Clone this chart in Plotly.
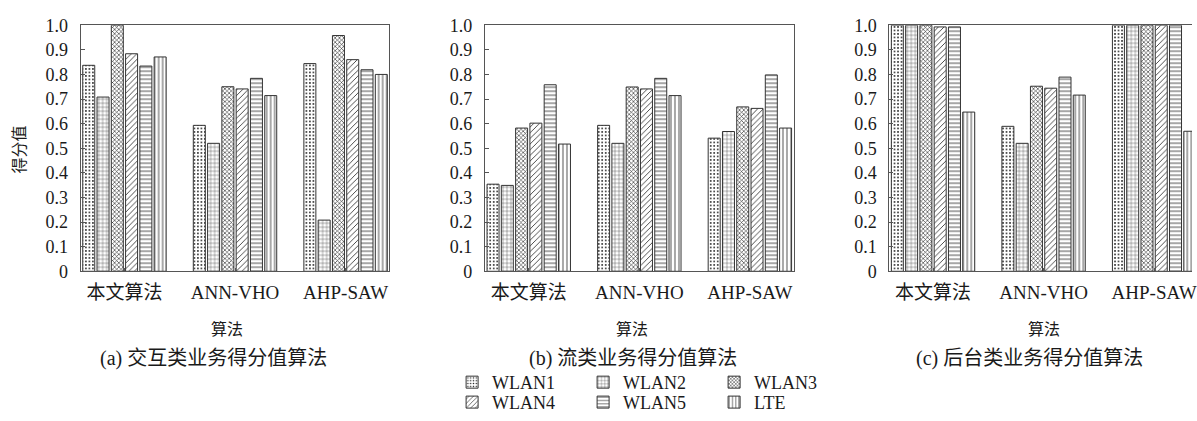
import plotly.graph_objects as go

categories = ["本文算法", "ANN-VHO", "AHP-SAW"]
series = ["WLAN1", "WLAN2", "WLAN3", "WLAN4", "WLAN5", "LTE"]

# values[panel][series] -> list over categories
panel_a = {
    "WLAN1": [0.837, 0.593, 0.844],
    "WLAN2": [0.708, 0.520, 0.208],
    "WLAN3": [1.000, 0.750, 0.958],
    "WLAN4": [0.884, 0.741, 0.860],
    "WLAN5": [0.834, 0.784, 0.819],
    "LTE":   [0.871, 0.714, 0.800],
}
panel_b = {
    "WLAN1": [0.354, 0.593, 0.541],
    "WLAN2": [0.349, 0.520, 0.568],
    "WLAN3": [0.582, 0.749, 0.668],
    "WLAN4": [0.602, 0.741, 0.662],
    "WLAN5": [0.758, 0.784, 0.798],
    "LTE":   [0.517, 0.714, 0.582],
}
panel_c = {
    "WLAN1": [1.000, 0.589, 1.000],
    "WLAN2": [1.000, 0.520, 1.000],
    "WLAN3": [1.000, 0.752, 1.000],
    "WLAN4": [0.993, 0.744, 1.000],
    "WLAN5": [0.993, 0.789, 1.000],
    "LTE":   [0.647, 0.716, 0.569],
}
panels = [panel_a, panel_b, panel_c]
captions = ["(a) 交互类业务得分值算法", "(b) 流类业务得分值算法", "(c) 后台类业务得分值算法"]
y_ticks = [0, 0.1, 0.2, 0.3, 0.4, 0.5, 0.6, 0.7, 0.8, 0.9, 1.0]
y_ticktext = ["0", "0.1", "0.2", "0.3", "0.4", "0.5", "0.6", "0.7", "0.8", "0.9", "1.0"]
x_title = "算法"
y_title = "得分值"

W, H = 1197, 421
FONT = "'Liberation Serif', 'DejaVu Serif', 'Noto Sans CJK SC', serif"
INK = "#1a1a1a"

patterns = {
    "WLAN1": dict(shape=".", size=3.5, solidity=0.22),
    "WLAN2": dict(shape="+", size=4, solidity=0.18),
    "WLAN3": dict(shape="x", size=3, solidity=0.35),
    "WLAN4": dict(shape="/", size=4, solidity=0.2),
    "WLAN5": dict(shape="-", size=4, solidity=0.2),
    "LTE":   dict(shape="|", size=4, solidity=0.2),
}

# pixel geometry of the plot areas
px_left = [81, 487, 893]
px_right = [391, 797, 1197]
px_top, px_bottom = 16, 275
unit = 111.0
ranges = [[-0.396, 2.396], [-0.396, 2.396], [-0.396, -0.396 + (1197 - 893) / unit]]

fig = go.Figure()
for p, data in enumerate(panels):
    xa = "x" if p == 0 else f"x{p+1}"
    ya = "y" if p == 0 else f"y{p+1}"
    for i, s in enumerate(series):
        pat = dict(patterns[s])
        pat.update(fgcolor="#222222", bgcolor="white", fillmode="replace")
        fig.add_trace(go.Bar(
            x=categories, y=data[s], name=s,
            xaxis=xa, yaxis=ya,
            marker=dict(color="white", pattern=pat,
                        line=dict(color="#333333", width=1)),
            showlegend=(p == 0),
            legend="legend" if i < 3 else "legend2",
            legendgroup=s,
        ))

layout = dict(
    width=W, height=H,
    margin=dict(l=0, r=0, t=0, b=0),
    paper_bgcolor="white", plot_bgcolor="white",
    barmode="group", bargap=0.225, bargroupgap=0.16,
    font=dict(family=FONT, color=INK, size=18),
    showlegend=True,
)
for p in range(3):
    xk = "xaxis" if p == 0 else f"xaxis{p+1}"
    yk = "yaxis" if p == 0 else f"yaxis{p+1}"
    layout[xk] = dict(
        domain=[px_left[p] / W, min(px_right[p] / W, 1.0)],
        anchor="y" if p == 0 else f"y{p+1}",
        type="category", range=ranges[p],
        showline=True, linecolor="#555555", linewidth=1, mirror=True,
        ticks="inside", ticklen=3, tickcolor="#555555",
        tickfont=dict(size=19, family=FONT, color=INK),
        ticklabelstandoff=4,
        showgrid=False, zeroline=False, fixedrange=True,
    )
    layout[yk] = dict(
        domain=[(H - px_bottom) / H, (H - px_top) / H],
        anchor="x" if p == 0 else f"x{p+1}",
        range=[0, 1.0],
        tickvals=y_ticks, ticktext=y_ticktext,
        showline=True, linecolor="#555555", linewidth=1,
        mirror=(p < 2),
        ticks="inside", ticklen=4, tickcolor="#555555",
        tickfont=dict(size=18, family=FONT, color=INK),
        ticklabelstandoff=8,
        showgrid=False, zeroline=False, fixedrange=True,
    )

legend_common = dict(
    orientation="h", x=454 / W, xanchor="left", yanchor="middle",
    font=dict(size=18, family=FONT, color=INK),
    entrywidth=86, entrywidthmode="pixels", traceorder="normal",
    bgcolor="rgba(0,0,0,0)", itemclick=False, itemdoubleclick=False,
)
layout["legend"] = dict(legend_common, y=(H - 392) / H)
layout["legend2"] = dict(legend_common, y=(H - 413) / H)

annotations = []
title_x = [228, 635, 1048]
caption_x = [214, 636, 1034]
for p in range(3):
    annotations.append(dict(text=x_title, x=title_x[p] / W, y=(H - 336) / H,
                            xref="paper", yref="paper", showarrow=False,
                            xanchor="center", yanchor="middle",
                            font=dict(size=16, family=FONT, color=INK)))
    annotations.append(dict(text=captions[p], x=caption_x[p] / W, y=(H - 367) / H,
                            xref="paper", yref="paper", showarrow=False,
                            xanchor="center", yanchor="middle",
                            font=dict(size=20, family=FONT, color=INK)))
annotations.append(dict(text=y_title, x=20 / W, y=(H - 147) / H,
                        xref="paper", yref="paper", showarrow=False,
                        textangle=-90, xanchor="center", yanchor="middle",
                        font=dict(size=16, family=FONT, color=INK)))
layout["annotations"] = annotations

fig.update_layout(**layout)
fig.write_html("out.html")
